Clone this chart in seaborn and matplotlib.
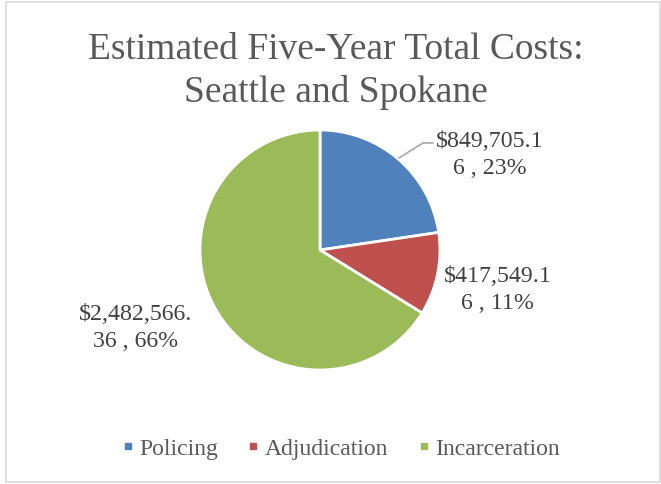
import matplotlib
matplotlib.use('Agg')
import matplotlib.pyplot as plt
import seaborn as sns
from matplotlib.lines import Line2D
from matplotlib.patches import Rectangle

# Data
categories = ['Policing', 'Adjudication', 'Incarceration']
costs = [849705.16, 417549.16, 2482566.36]
wrap_at = [10, 10, 11]  # where the label text breaks onto a 2nd line
colors = ['#4F81BD', '#C0504D', '#9BBB59']

sns.set_theme(style='white')
plt.rcParams['font.family'] = ['Liberation Serif', 'DejaVu Serif']

fig = plt.figure(figsize=(6.61, 4.85), dpi=100)
W, H = 661, 485

# chart border
fig.patches.append(Rectangle((6 / W, 2 / H), 654 / W, 480 / H, transform=fig.transFigure,
                             fill=False, edgecolor='#D9D9D9', linewidth=1.2))

# pie axes: centre (320, 251) px, radius 120 px
cx, cy, r = 320, 251, 120
ax = fig.add_axes([(cx - r) / W, (H - cy - r) / H, 2 * r / W, 2 * r / H])
wedges, _ = ax.pie(costs, colors=colors, startangle=90, counterclock=False,
                   wedgeprops=dict(edgecolor='white', linewidth=2))
ax.set_xlim(-1, 1)
ax.set_ylim(-1, 1)
ax.set_aspect('equal')
ax.axis('off')

# data labels
total = sum(costs)
label_pos = [(1.417, 0.80), (1.48, -0.325), (-1.54, -0.64)]
for v, w, (lx, ly) in zip(costs, wrap_at, label_pos):
    s = f'${v:,.2f}'
    txt = s[:w] + '\n' + s[w:] + f' , {round(v / total * 100):.0f}%'
    ax.text(lx, ly, txt, ha='center', va='center', fontsize=17.2, color='#404040',
            linespacing=1.38, clip_on=False)

# leader line for the first label
ax.add_line(Line2D([0.658, 0.858, 0.942], [0.767, 0.892, 0.892], color='#A6A6A6',
                   linewidth=1.2, clip_on=False))

fig.text(335.5 / W, 1 - 71 / H, 'Estimated Five-Year Total Costs:\nSeattle and Spokane',
         ha='center', va='center', fontsize=27, color='#595959', linespacing=1.3)

handles = [Line2D([], [], marker='s', linestyle='none', markersize=5,
                  markerfacecolor=c, markeredgecolor=c) for c in colors]
fig.legend(handles, categories, loc='center', bbox_to_anchor=(338 / W, 1 - 449 / H),
           ncol=3, frameon=False, fontsize=17, labelcolor='#595959',
           handletextpad=0.0, columnspacing=0.98, handlelength=1.0)

plt.savefig('out.png', dpi=100)
